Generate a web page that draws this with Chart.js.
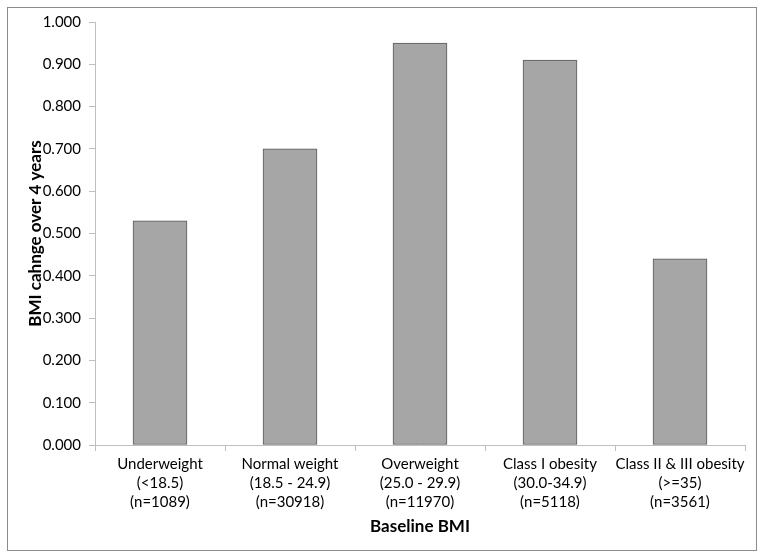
<!DOCTYPE html>
<html>
<head>
<meta charset="utf-8">
<script src="https://cdn.jsdelivr.net/npm/chart.js@4"></script>
<style>
  html, body { margin: 0; padding: 0; background: #fff; }
  #wrap { width: 764px; height: 558px; position: relative; }
</style>
</head>
<body>
<div id="wrap"><canvas id="bmiChart" width="764" height="558"></canvas></div>
<script>
var categories = [
    ['Underweight', '(<18.5)', '(n=1089)'],
    ['Normal weight', '(18.5 - 24.9)', '(n=30918)'],
    ['Overweight', '(25.0 - 29.9)', '(n=11970)'],
    ['Class I obesity', '(30.0-34.9)', '(n=5118)'],
    ['Class II & III obesity', '(>=35)', '(n=3561)']
];
var bmiChange = [0.530, 0.700, 0.950, 0.910, 0.440];
var yTicks = [0, 0.1, 0.2, 0.3, 0.4, 0.5, 0.6, 0.7, 0.8, 0.9, 1.0];

// outer frame around the whole chart
var framePlugin = {
    id: 'frame',
    afterDraw: function (chart) {
        var c = chart.ctx;
        c.save();
        c.strokeStyle = '#8c8c8c';
        c.lineWidth = 1;
        c.strokeRect(7.5, 7.5, 749, 543);
        c.restore();
    }
};

var ctx1 = document.getElementById('bmiChart').getContext('2d');
var bmiChart = new Chart(ctx1, {
    type: 'bar',
    data: {
        labels: categories,
        datasets: [{
            label: 'BMI change',
            data: bmiChange,
            backgroundColor: '#a6a6a6',
            borderColor: '#595959',
            borderWidth: 1,
            borderSkipped: false,
            barThickness: 54
        }]
    },
    options: {
        responsive: false,
        animation: false,
        layout: { padding: { top: 22, right: 19, left: 0, bottom: 0 } },
        plugins: {
            legend: { display: false },
            tooltip: { enabled: false }
        },
        scales: {
            x: {
                afterFit: function (scale) { scale.height = 113; },
                grid: { display: true, drawOnChartArea: false, offset: true, tickLength: 6, color: '#bfbfbf' },
                border: { color: '#bfbfbf' },
                ticks: {
                    color: '#000',
                    padding: 4,
                    autoSkip: false,
                    maxRotation: 0,
                    font: { family: 'Lato', size: 15, lineHeight: 1.27 }
                },
                title: {
                    display: true,
                    text: 'Baseline BMI',
                    color: '#000',
                    padding: { top: 21, bottom: 21 },
                    font: { family: 'Lato', size: 17, weight: 'bold', lineHeight: 1.2 }
                }
            },
            y: {
                min: 0,
                max: 1,
                afterFit: function (scale) { scale.width = 95; },
                afterBuildTicks: function (scale) {
                    scale.ticks = yTicks.map(function (v) { return { value: v }; });
                },
                grid: { display: true, drawOnChartArea: false, tickLength: 6, color: '#bfbfbf' },
                border: { color: '#bfbfbf' },
                ticks: {
                    color: '#000',
                    padding: 8,
                    font: { family: 'Lato', size: 15 },
                    callback: function (v) { return v.toFixed(3); }
                },
                title: {
                    display: true,
                    text: 'BMI cahnge over 4 years',
                    color: '#000',
                    padding: { top: 25, bottom: 25 },
                    font: { family: 'Lato', size: 17, weight: 'bold', lineHeight: 1.2 }
                }
            }
        }
    },
    plugins: [framePlugin]
});
</script>
</body>
</html>
